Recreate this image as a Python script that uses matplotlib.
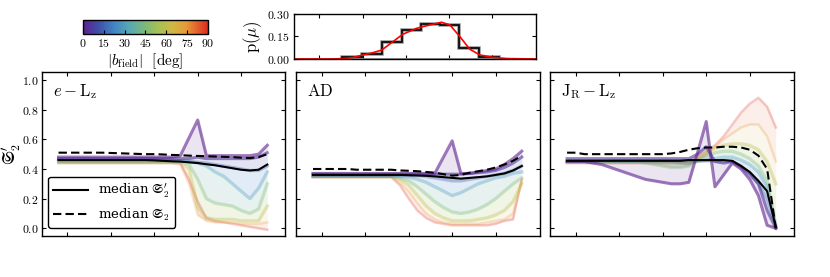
import numpy as np
import matplotlib

matplotlib.use("Agg")
import matplotlib.pyplot as plt
from matplotlib.colors import LinearSegmentedColormap, Normalize
from matplotlib.cm import ScalarMappable

plt.rcParams["mathtext.fontset"] = "cm"
plt.rcParams["font.family"] = "serif"
plt.rcParams["font.serif"] = ["DejaVu Serif"]
plt.rcParams["axes.linewidth"] = 1.0

# Representative curves, one row per |b_field| value (deg), 25 points each.
b_vals = [0, 5, 15, 30, 45, 60, 75, 90]

elz_curves = [
    [0.48, 0.48, 0.48, 0.48, 0.48, 0.48, 0.48, 0.48, 0.48, 0.48, 0.48, 0.48, 0.48, 0.48, 0.49, 0.61, 0.73, 0.49, 0.49, 0.49, 0.49, 0.49, 0.49, 0.50, 0.56],
    [0.47, 0.47, 0.47, 0.47, 0.47, 0.47, 0.47, 0.47, 0.47, 0.47, 0.47, 0.47, 0.47, 0.47, 0.47, 0.47, 0.48, 0.47, 0.47, 0.47, 0.47, 0.47, 0.47, 0.48, 0.51],
    [0.465, 0.465, 0.465, 0.465, 0.465, 0.465, 0.465, 0.465, 0.465, 0.465, 0.465, 0.465, 0.462, 0.46, 0.455, 0.45, 0.445, 0.44, 0.43, 0.42, 0.41, 0.40, 0.39, 0.39, 0.42],
    [0.455, 0.455, 0.455, 0.455, 0.455, 0.455, 0.455, 0.455, 0.455, 0.455, 0.455, 0.455, 0.455, 0.455, 0.455, 0.45, 0.44, 0.42, 0.38, 0.35, 0.30, 0.25, 0.20, 0.27, 0.38],
    [0.45, 0.45, 0.45, 0.45, 0.45, 0.45, 0.45, 0.45, 0.45, 0.45, 0.45, 0.45, 0.45, 0.45, 0.45, 0.43, 0.33, 0.20, 0.17, 0.16, 0.15, 0.12, 0.10, 0.13, 0.30],
    [0.445, 0.445, 0.445, 0.445, 0.445, 0.445, 0.445, 0.445, 0.445, 0.445, 0.445, 0.445, 0.445, 0.445, 0.445, 0.40, 0.14, 0.07, 0.06, 0.06, 0.06, 0.05, 0.05, 0.05, 0.15],
    [0.44, 0.44, 0.44, 0.44, 0.44, 0.44, 0.44, 0.44, 0.44, 0.44, 0.44, 0.44, 0.44, 0.44, 0.43, 0.30, 0.09, 0.05, 0.04, 0.04, 0.04, 0.03, 0.03, 0.03, 0.04],
    [0.44, 0.44, 0.44, 0.44, 0.44, 0.44, 0.44, 0.44, 0.44, 0.44, 0.44, 0.44, 0.44, 0.44, 0.44, 0.33, 0.18, 0.07, 0.05, 0.04, 0.03, 0.02, 0.01, 0.00, -0.01],
]
elz_med_s2p = [0.46, 0.46, 0.46, 0.46, 0.46, 0.46, 0.46, 0.46, 0.46, 0.46, 0.46, 0.458, 0.455, 0.452, 0.45, 0.445, 0.44, 0.432, 0.425, 0.415, 0.405, 0.395, 0.39, 0.395, 0.43]
elz_med_s2 = [0.51, 0.51, 0.51, 0.51, 0.51, 0.51, 0.508, 0.506, 0.504, 0.502, 0.50, 0.50, 0.498, 0.495, 0.493, 0.49, 0.488, 0.486, 0.484, 0.482, 0.48, 0.476, 0.474, 0.48, 0.50]

ad_curves = [
    [0.37, 0.37, 0.37, 0.37, 0.37, 0.37, 0.37, 0.37, 0.37, 0.37, 0.37, 0.37, 0.37, 0.37, 0.37, 0.48, 0.59, 0.37, 0.37, 0.38, 0.39, 0.40, 0.43, 0.47, 0.52],
    [0.365, 0.365, 0.365, 0.365, 0.365, 0.365, 0.365, 0.365, 0.365, 0.365, 0.365, 0.365, 0.365, 0.365, 0.365, 0.365, 0.365, 0.365, 0.37, 0.375, 0.38, 0.39, 0.41, 0.44, 0.48],
    [0.355, 0.355, 0.355, 0.355, 0.355, 0.355, 0.355, 0.355, 0.355, 0.355, 0.355, 0.355, 0.355, 0.35, 0.34, 0.33, 0.32, 0.32, 0.33, 0.34, 0.35, 0.36, 0.37, 0.39, 0.42],
    [0.35, 0.35, 0.35, 0.35, 0.35, 0.35, 0.35, 0.35, 0.35, 0.35, 0.35, 0.345, 0.33, 0.31, 0.28, 0.25, 0.22, 0.24, 0.27, 0.30, 0.32, 0.34, 0.35, 0.37, 0.38],
    [0.35, 0.35, 0.35, 0.35, 0.35, 0.35, 0.35, 0.35, 0.35, 0.35, 0.34, 0.32, 0.28, 0.23, 0.18, 0.14, 0.11, 0.10, 0.11, 0.13, 0.16, 0.20, 0.25, 0.30, 0.34],
    [0.35, 0.35, 0.35, 0.35, 0.35, 0.35, 0.35, 0.35, 0.35, 0.35, 0.33, 0.29, 0.22, 0.15, 0.10, 0.07, 0.05, 0.05, 0.05, 0.06, 0.07, 0.09, 0.12, 0.18, 0.30],
    [0.345, 0.345, 0.345, 0.345, 0.345, 0.345, 0.345, 0.345, 0.345, 0.345, 0.31, 0.25, 0.17, 0.10, 0.06, 0.04, 0.03, 0.03, 0.03, 0.03, 0.04, 0.05, 0.06, 0.10, 0.32],
    [0.345, 0.345, 0.345, 0.345, 0.345, 0.345, 0.345, 0.345, 0.345, 0.345, 0.29, 0.20, 0.12, 0.07, 0.04, 0.03, 0.02, 0.02, 0.02, 0.02, 0.02, 0.03, 0.05, 0.06, 0.33],
]
ad_med_s2p = [0.36, 0.36, 0.36, 0.36, 0.36, 0.36, 0.36, 0.36, 0.36, 0.36, 0.36, 0.358, 0.356, 0.354, 0.35, 0.345, 0.34, 0.335, 0.34, 0.345, 0.35, 0.36, 0.37, 0.39, 0.42]
ad_med_s2 = [0.40, 0.40, 0.40, 0.40, 0.40, 0.395, 0.395, 0.395, 0.395, 0.395, 0.39, 0.388, 0.385, 0.38, 0.375, 0.365, 0.355, 0.36, 0.375, 0.385, 0.395, 0.41, 0.43, 0.455, 0.49]

jrlz_curves = [
    [0.45, 0.45, 0.45, 0.44, 0.43, 0.41, 0.39, 0.37, 0.35, 0.33, 0.32, 0.31, 0.30, 0.30, 0.31, 0.51, 0.72, 0.28, 0.36, 0.44, 0.40, 0.33, 0.22, 0.02, 0.00],
    [0.47, 0.47, 0.47, 0.47, 0.47, 0.47, 0.47, 0.47, 0.47, 0.47, 0.47, 0.47, 0.47, 0.47, 0.47, 0.50, 0.55, 0.45, 0.44, 0.45, 0.42, 0.37, 0.30, 0.12, 0.00],
    [0.455, 0.455, 0.455, 0.455, 0.455, 0.455, 0.455, 0.455, 0.455, 0.455, 0.455, 0.455, 0.455, 0.455, 0.455, 0.455, 0.455, 0.455, 0.455, 0.45, 0.41, 0.36, 0.30, 0.20, 0.01],
    [0.45, 0.45, 0.45, 0.45, 0.45, 0.45, 0.45, 0.45, 0.45, 0.45, 0.45, 0.45, 0.45, 0.44, 0.44, 0.45, 0.46, 0.47, 0.48, 0.48, 0.46, 0.43, 0.38, 0.28, 0.01],
    [0.45, 0.45, 0.45, 0.45, 0.45, 0.45, 0.45, 0.45, 0.45, 0.44, 0.43, 0.42, 0.41, 0.41, 0.42, 0.46, 0.49, 0.51, 0.52, 0.52, 0.50, 0.47, 0.42, 0.32, 0.02],
    [0.445, 0.445, 0.445, 0.445, 0.445, 0.445, 0.445, 0.445, 0.445, 0.445, 0.445, 0.445, 0.445, 0.445, 0.44, 0.47, 0.51, 0.54, 0.56, 0.57, 0.57, 0.56, 0.53, 0.45, 0.30],
    [0.44, 0.44, 0.44, 0.44, 0.44, 0.44, 0.44, 0.44, 0.44, 0.44, 0.44, 0.44, 0.44, 0.44, 0.43, 0.46, 0.50, 0.55, 0.60, 0.64, 0.68, 0.70, 0.70, 0.62, 0.45],
    [0.44, 0.44, 0.44, 0.44, 0.44, 0.44, 0.44, 0.44, 0.44, 0.44, 0.44, 0.44, 0.44, 0.44, 0.44, 0.48, 0.52, 0.56, 0.62, 0.70, 0.78, 0.84, 0.88, 0.82, 0.68],
]
jrlz_med_s2p = [0.455, 0.455, 0.455, 0.455, 0.455, 0.455, 0.455, 0.455, 0.455, 0.455, 0.455, 0.455, 0.455, 0.455, 0.46, 0.46, 0.46, 0.46, 0.46, 0.455, 0.42, 0.38, 0.32, 0.25, 0.01]
jrlz_med_s2 = [0.51, 0.51, 0.50, 0.50, 0.50, 0.50, 0.50, 0.50, 0.50, 0.50, 0.50, 0.50, 0.505, 0.515, 0.53, 0.54, 0.545, 0.545, 0.55, 0.55, 0.545, 0.53, 0.49, 0.40, 0.00]

panel_labels = [r"$e-\mathrm{L_z}$", r"$\mathrm{AD}$", r"$\mathrm{J_R-L_z}$"]

# p(mu) histogram and smooth estimate
hist_edges = [3.6, 5.9, 8.2, 10.5, 12.8, 15.0, 17.2, 19.5, 21.8]
hist_vals = [0.015, 0.036, 0.11, 0.19, 0.232, 0.225, 0.07, 0.011]
kde_x = [-1.96, 2.2, 3.94, 4.87, 6.02, 7.07, 8.22, 9.49, 10.65, 12.27, 13.78, 15.13, 16.1, 17.25, 18.4, 19.56, 21.06, 22.7, 26.0]
kde_y = [0.0, 0.0, 0.003, 0.01, 0.027, 0.04, 0.06, 0.115, 0.165, 0.205, 0.227, 0.245, 0.227, 0.149, 0.065, 0.027, 0.011, 0.003, 0.0]

cbar_ticks = [0, 15, 30, 45, 60, 75, 90]

cmap = LinearSegmentedColormap.from_list(
    "bfield",
    [(0.0, "#5e1f8e"), (0.12, "#3f4fa8"), (0.25, "#4285c4"), (0.38, "#5aaab0"),
     (0.5, "#7cb978"), (0.6, "#a4c154"), (0.72, "#d0b843"), (0.83, "#e8993a"),
     (1.0, "#dd2a1e")],
)
norm = Normalize(0, 90)

x = np.arange(25)
xlim = (-1.96, 26.04)
xticks = [1, 6, 11, 16, 21]


def style_axis(ax):
    ax.tick_params(direction="in", top=True, right=True, length=3, width=0.8,
                   labelsize=8.5, pad=3)


fig = plt.figure(figsize=(8.3, 2.77), dpi=100)
lefts = [0.05, 0.3566, 0.6627]
axes = [fig.add_axes([l, 0.148, 0.2934, 0.592]) for l in lefts]

all_curves = [elz_curves, ad_curves, jrlz_curves]
all_s2p = [elz_med_s2p, ad_med_s2p, jrlz_med_s2p]
all_s2 = [elz_med_s2, ad_med_s2, jrlz_med_s2]

for i, ax in enumerate(axes):
    curves = np.array(all_curves[i])
    # shaded fans between neighbouring |b| curves
    for j in range(len(b_vals) - 1, 0, -1):
        bm = 0.5 * (b_vals[j] + b_vals[j - 1])
        fa = 0.10 if bm >= 65 else (0.12 if bm < 5 else 0.15)
        ax.fill_between(x, curves[j - 1], curves[j], color=cmap(norm(bm)), alpha=fa, lw=0)
    for j in range(len(b_vals) - 1, -1, -1):
        b = b_vals[j]
        if b <= 5:
            a, lw = 0.6, 2.2
        elif b < 70:
            a, lw = 0.35, 2.4
        else:
            a, lw = 0.25, 1.8
        ax.plot(x, curves[j], color=cmap(norm(b)), lw=lw, alpha=a,
                solid_joinstyle="round")
    ax.plot(x, all_s2p[i], color="k", lw=1.5, label=r"median $\mathfrak{S}_2'$")
    ax.plot(x, all_s2[i], color="k", lw=1.5, ls=(0, (4, 2)), label=r"median $\mathfrak{S}_2$")
    ax.set_xlim(*xlim)
    ax.set_ylim(-0.052, 1.054)
    ax.set_xticks(xticks)
    ax.set_xticklabels([])
    yt = [0.0, 0.2, 0.4, 0.6, 0.8, 1.0]
    ax.set_yticks(yt)
    style_axis(ax)
    if i == 0:
        ax.set_yticklabels([f"${v:.1f}$" for v in yt])
        ax.tick_params(axis="y", pad=2)
        ax.set_ylabel(r"$\mathfrak{S}_2'$", fontsize=12)
        ax.yaxis.set_label_coords(-0.078, 0.5)
        leg = ax.legend(loc="lower left", bbox_to_anchor=(0.027, 0.049),
                        borderaxespad=0, fontsize=9.5, handlelength=2.6,
                        frameon=True, fancybox=True, framealpha=1)
        leg.get_frame().set_edgecolor("k")
        leg.get_frame().set_linewidth(1.0)
    else:
        ax.set_yticklabels([])
    ax.text(0.047, 0.88, panel_labels[i], transform=ax.transAxes, fontsize=12,
            va="center", ha="left")

# histogram of mu above the middle panel
hax = fig.add_axes([0.354, 0.787, 0.2916, 0.1625])
hax.axhline(0, color="0.55", lw=2.0)
hax.stairs(hist_vals, hist_edges, color="0.6", lw=2.6)
hax.stairs(hist_vals, hist_edges, color="k", lw=1.2)
hax.plot(kde_x, kde_y, color="red", lw=1.2)
hax.set_xlim(*xlim)
hax.set_ylim(0, 0.30)
hax.set_xticks(xticks)
hax.set_xticklabels([])
hax.set_yticks([0.0, 0.15, 0.30])
hax.set_yticklabels([r"$0.00$", r"$0.15$", r"$0.30$"])
hax.set_ylabel(r"$\mathrm{p}(\mu)$", fontsize=12, labelpad=2)
style_axis(hax)

# colorbar
cax = fig.add_axes([0.1, 0.877, 0.1506, 0.0505])
cb = fig.colorbar(ScalarMappable(norm=norm, cmap=cmap), cax=cax, orientation="horizontal")
cb.set_ticks(cbar_ticks)
cb.set_ticklabels([f"${t}$" for t in cbar_ticks])
cax.tick_params(direction="in", length=3, width=0.8, labelsize=8.5, pad=2)
cb.outline.set_linewidth(1.0)
cb.set_label(r"$|b_{\mathrm{field}}|\ \ [\mathrm{deg}]$", fontsize=11, labelpad=1)

fig.savefig("out.png", dpi=100)
